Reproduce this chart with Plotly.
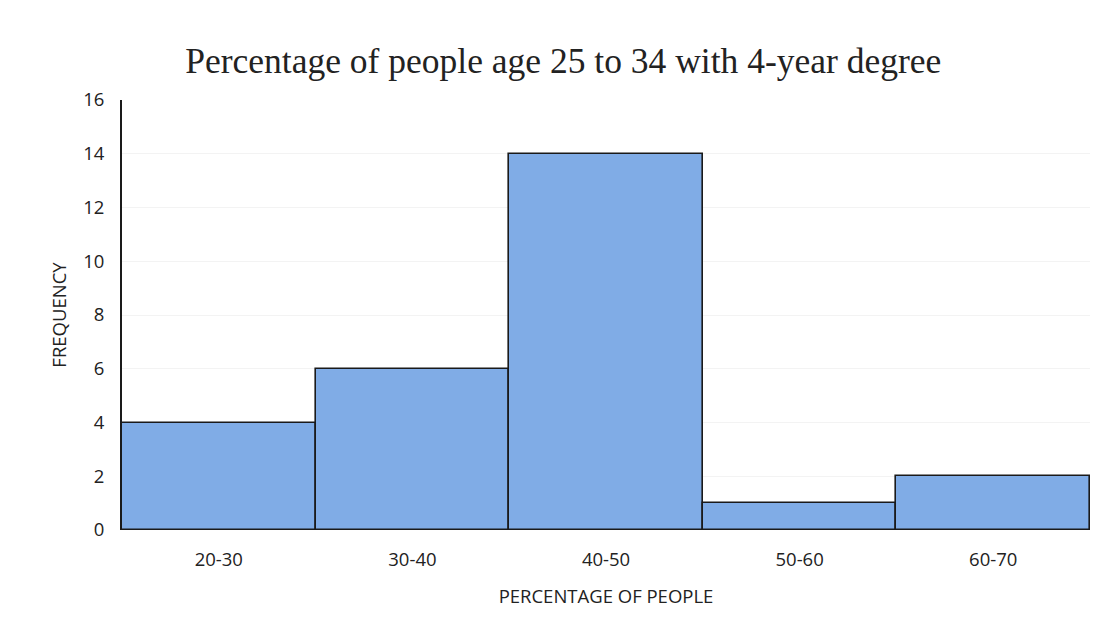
import plotly.graph_objects as go

# Histogram bins and counts
bins = ["20-30", "30-40", "40-50", "50-60", "60-70"]
counts = [4, 6, 14, 1, 2]
y_ticks = [0, 2, 4, 6, 8, 10, 12, 14, 16]

bar_color = "#80ACE6"
label_font = dict(family="Open Sans, Liberation Sans, sans-serif", size=18.5, color="#222222")

fig = go.Figure(
    go.Bar(
        x=bins,
        y=counts,
        width=1.0,
        marker=dict(color=bar_color, line=dict(color="#1a1a1a", width=1.6)),
        hoverinfo="x+y",
    )
)

fig.update_layout(
    width=1111,
    height=637,
    margin=dict(l=122, r=21, t=100, b=107),
    paper_bgcolor="white",
    plot_bgcolor="white",
    bargap=0,
    showlegend=False,
    title=dict(
        text="Percentage of people age 25 to 34 with 4-year degree",
        x=0.507,
        xanchor="center",
        y=0.905,
        yanchor="middle",
        font=dict(family="Liberation Serif, DejaVu Serif, serif", size=35.5, color="#222222"),
    ),
)

fig.update_xaxes(
    range=[-0.5, 4.5],
    showgrid=False,
    showline=False,
    zeroline=False,
    ticks="",
    tickfont=label_font,
    ticklabelstandoff=16,
    title=dict(text="PERCENTAGE OF PEOPLE", font=label_font, standoff=20),
)

fig.update_yaxes(
    range=[0, 16],
    tickvals=y_ticks,
    showgrid=True,
    gridcolor="#f3f3f3",
    gridwidth=1,
    showline=True,
    linecolor="#1a1a1a",
    linewidth=2,
    zeroline=False,
    ticks="",
    tickfont=label_font,
    ticklabelstandoff=12,
    title=dict(text="FREQUENCY", font=label_font, standoff=12),
)

fig.write_html("out.html")
